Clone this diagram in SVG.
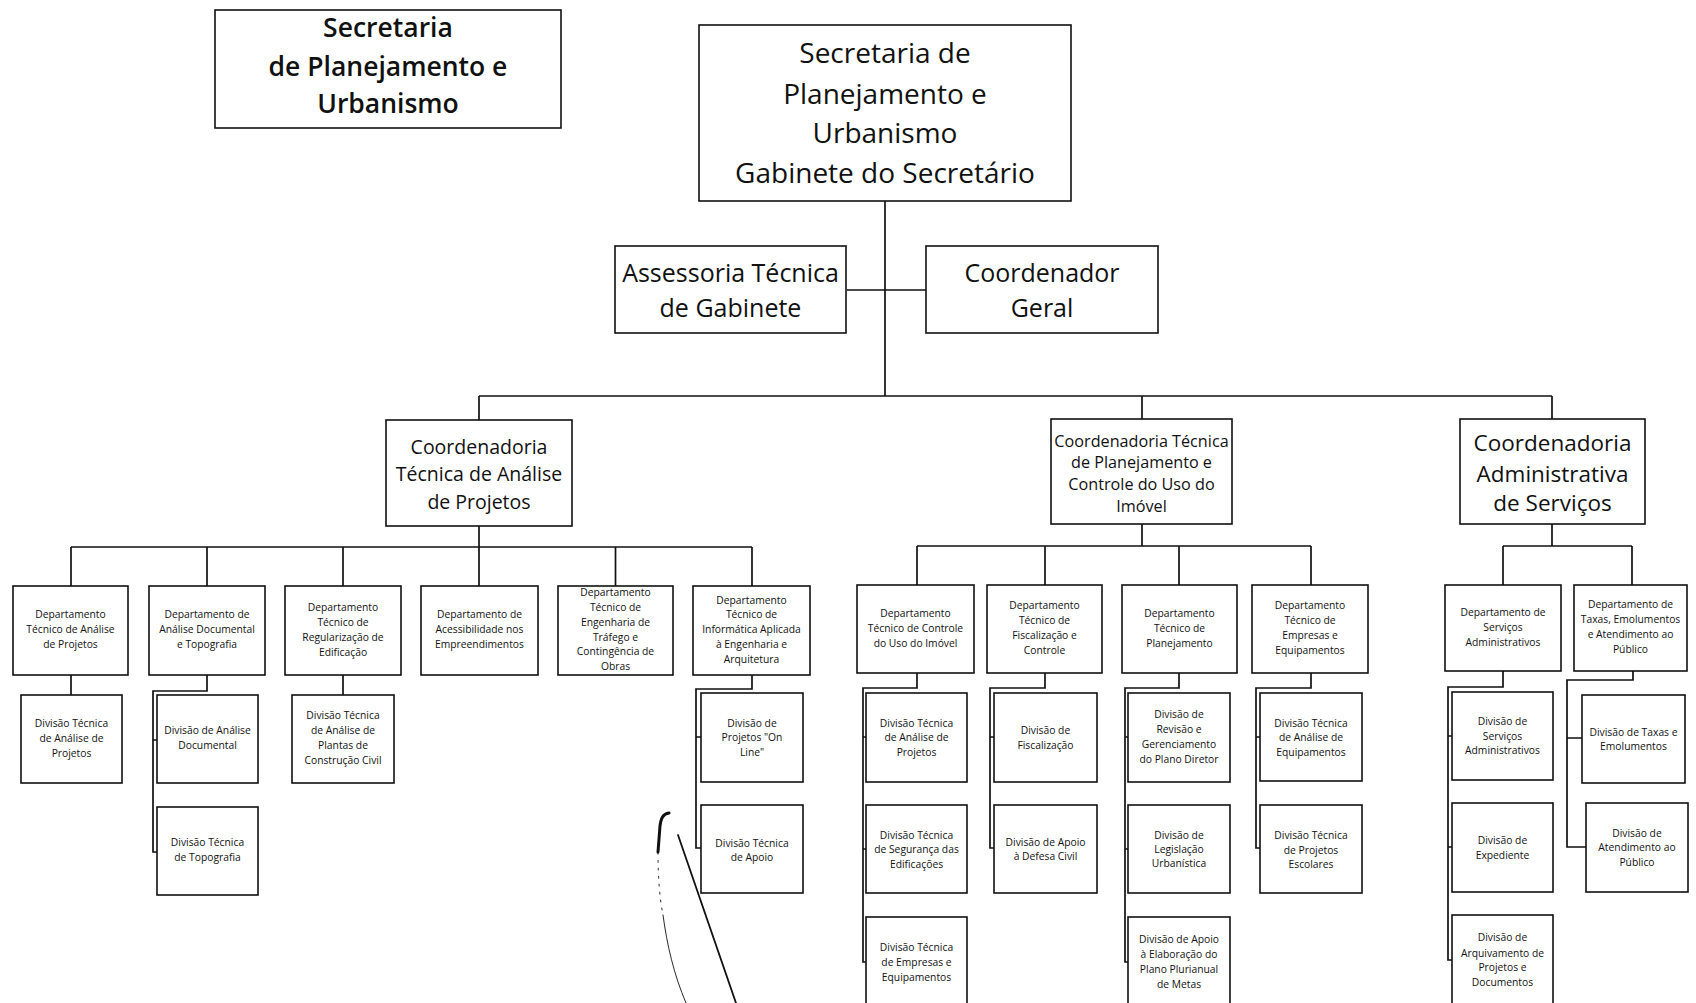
<svg xmlns="http://www.w3.org/2000/svg" width="1696" height="1003" viewBox="0 0 1696 1003">
<style>
.bx{fill:#fff;stroke:#111;stroke-width:1.6}
.t{font-family:"Open Sans","Noto Sans",sans-serif;fill:#111;text-anchor:middle}
.s{font-size:10.3px}
.ln{fill:none;stroke:#111;stroke-width:1.7}
.art{fill:none;stroke:#111;stroke-linecap:round}
</style>
<rect width="1696" height="1003" fill="#fff"/>

<g id="connectors" class="ln">
<path d="M885,201 V396 M847,290 H926"/>
<path d="M479,396 H1552 M479,396 V420 M1142,396 V419 M1552,396 V419"/>
<path d="M479,526 V547 M71,547 H752 M71,547 V586 M207,547 V586 M343,547 V586 M479,547 V586 M615.5,547 V586 M752,547 V586"/>
<path d="M1142,524 V546 M917,546 H1311 M917,546 V585 M1045,546 V585 M1179,546 V585 M1311,546 V585"/>
<path d="M1552,524 V546 M1503,546 H1632 M1503,546 V585 M1632,546 V585"/>
<path d="M71,675 V695 M343,675 V695"/>
<path d="M207,675 V691 H153 V852 H157 M153,740 H157"/>
<path d="M752,674 V689 H696 V848 H701 M696,737 H701"/>
<path d="M917,673 V688 H863 V962 H866 M863,737 H866 M863,849 H866"/>
<path d="M1045,673 V688 H990 V848 H994 M990,737 H994"/>
<path d="M1179,673 V688 H1125 V962 H1128 M1125,737 H1128 M1125,849 H1128"/>
<path d="M1311,673 V688 H1256 V848 H1260 M1256,737 H1260"/>
<path d="M1503,671 V687 H1448 V960 H1452 M1448,736 H1452 M1448,847 H1452"/>
<path d="M1633,671 V680 H1567 V847 H1586 M1567,738 H1582"/>
</g>

<g id="title">
<rect class="bx" x="215" y="10" width="346" height="118"/>
<text class="t" style="font-size:26.5px;font-weight:600"><tspan x="388" y="37">Secretaria</tspan><tspan x="388" y="76">de Planejamento e</tspan><tspan x="388" y="113">Urbanismo</tspan></text>
</g>

<g id="gabinete">
<rect class="bx" x="699" y="25" width="372" height="176"/>
<text class="t" style="font-size:28px"><tspan x="885" y="63">Secretaria de</tspan><tspan x="885" y="104">Planejamento e</tspan><tspan x="885" y="143">Urbanismo</tspan><tspan x="885" y="183">Gabinete do Secretário</tspan></text>
</g>

<g id="assessoria">
<rect class="bx" x="615" y="246" width="231" height="87"/>
<text class="t" style="font-size:25px"><tspan x="730.5" y="282">Assessoria Técnica</tspan><tspan x="730.5" y="317">de Gabinete</tspan></text>
</g>

<g id="coordenador">
<rect class="bx" x="926" y="246" width="232" height="87"/>
<text class="t" style="font-size:25px"><tspan x="1042" y="282">Coordenador</tspan><tspan x="1042" y="317">Geral</tspan></text>
</g>

<g id="coord-analise">
<rect class="bx" x="386" y="420" width="186" height="106"/>
<text class="t" style="font-size:19.5px"><tspan x="479" y="454">Coordenadoria</tspan><tspan x="479" y="481">Técnica de Análise</tspan><tspan x="479" y="509">de Projetos</tspan></text>
</g>

<g id="coord-planejamento">
<rect class="bx" x="1051" y="419" width="181" height="105"/>
<text class="t" style="font-size:16.2px"><tspan x="1141.5" y="447">Coordenadoria Técnica</tspan><tspan x="1141.5" y="468">de Planejamento e</tspan><tspan x="1141.5" y="490">Controle do Uso do</tspan><tspan x="1141.5" y="512">Imóvel</tspan></text>
</g>

<g id="coord-administrativa">
<rect class="bx" x="1460" y="419" width="185" height="105"/>
<text class="t" style="font-size:22.5px"><tspan x="1552.5" y="451">Coordenadoria</tspan><tspan x="1552.5" y="482">Administrativa</tspan><tspan x="1552.5" y="511">de Serviços</tspan></text>
</g>

<g id="dep-analise-projetos">
<rect class="bx" x="13" y="586" width="115" height="89"/>
<text class="t s"><tspan x="70.5" y="618.1">Departamento</tspan><tspan x="70.5" y="633.1">Técnico de Análise</tspan><tspan x="70.5" y="648.1">de Projetos</tspan></text>
</g>
<g id="dep-analise-documental">
<rect class="bx" x="149" y="586" width="116" height="89"/>
<text class="t s"><tspan x="207" y="618.1">Departamento de</tspan><tspan x="207" y="633.1">Análise Documental</tspan><tspan x="207" y="648.1">e Topografia</tspan></text>
</g>
<g id="dep-regularizacao">
<rect class="bx" x="285" y="586" width="116" height="89"/>
<text class="t s"><tspan x="343" y="610.6">Departamento</tspan><tspan x="343" y="625.6">Técnico de</tspan><tspan x="343" y="640.6">Regularização de</tspan><tspan x="343" y="655.6">Edificação</tspan></text>
</g>
<g id="dep-acessibilidade">
<rect class="bx" x="421" y="586" width="117" height="89"/>
<text class="t s"><tspan x="479.5" y="618.1">Departamento de</tspan><tspan x="479.5" y="633.1">Acessibilidade nos</tspan><tspan x="479.5" y="648.1">Empreendimentos</tspan></text>
</g>
<g id="dep-trafego">
<rect class="bx" x="558" y="586" width="115" height="89"/>
<text class="t s"><tspan x="615.5" y="596.4">Departamento</tspan><tspan x="615.5" y="611.1">Técnico de</tspan><tspan x="615.5" y="625.8">Engenharia de</tspan><tspan x="615.5" y="640.5">Tráfego e</tspan><tspan x="615.5" y="655.2">Contingência de</tspan><tspan x="615.5" y="669.9">Obras</tspan></text>
</g>
<g id="dep-informatica">
<rect class="bx" x="693" y="586" width="117" height="89"/>
<text class="t s"><tspan x="751.5" y="603.7">Departamento</tspan><tspan x="751.5" y="618.4">Técnico de</tspan><tspan x="751.5" y="633.1">Informática Aplicada</tspan><tspan x="751.5" y="647.8">à Engenharia e</tspan><tspan x="751.5" y="662.5">Arquitetura</tspan></text>
</g>

<g id="div-analise-projetos-1">
<rect class="bx" x="21" y="695" width="101" height="88"/>
<text class="t s"><tspan x="71.5" y="726.6">Divisão Técnica</tspan><tspan x="71.5" y="741.6">de Análise de</tspan><tspan x="71.5" y="756.6">Projetos</tspan></text>
</g>
<g id="div-analise-documental">
<rect class="bx" x="157" y="695" width="101" height="88"/>
<text class="t s"><tspan x="207.5" y="734.1">Divisão de Análise</tspan><tspan x="207.5" y="749.1">Documental</tspan></text>
</g>
<g id="div-topografia">
<rect class="bx" x="157" y="807" width="101" height="88"/>
<text class="t s"><tspan x="207.5" y="846.1">Divisão Técnica</tspan><tspan x="207.5" y="861.1">de Topografia</tspan></text>
</g>
<g id="div-plantas">
<rect class="bx" x="292" y="695" width="102" height="88"/>
<text class="t s"><tspan x="343" y="719.1">Divisão Técnica</tspan><tspan x="343" y="734.1">de Análise de</tspan><tspan x="343" y="749.1">Plantas de</tspan><tspan x="343" y="764.1">Construção Civil</tspan></text>
</g>
<g id="div-online">
<rect class="bx" x="701" y="693" width="102" height="89"/>
<text class="t s"><tspan x="752" y="726.6">Divisão de</tspan><tspan x="752" y="740.6">Projetos "On</tspan><tspan x="752" y="755.6">Line"</tspan></text>
</g>
<g id="div-apoio">
<rect class="bx" x="701" y="805" width="102" height="88"/>
<text class="t s"><tspan x="752" y="846.6">Divisão Técnica</tspan><tspan x="752" y="860.6">de Apoio</tspan></text>
</g>

<g id="dep-controle-uso">
<rect class="bx" x="857" y="585" width="117" height="88"/>
<text class="t s"><tspan x="915.5" y="616.6">Departamento</tspan><tspan x="915.5" y="631.6">Técnico de Controle</tspan><tspan x="915.5" y="646.6">do Uso do Imóvel</tspan></text>
</g>
<g id="dep-fiscalizacao">
<rect class="bx" x="987" y="585" width="115" height="88"/>
<text class="t s"><tspan x="1044.5" y="609.1">Departamento</tspan><tspan x="1044.5" y="624.1">Técnico de</tspan><tspan x="1044.5" y="639.1">Fiscalização e</tspan><tspan x="1044.5" y="654.1">Controle</tspan></text>
</g>
<g id="dep-planejamento">
<rect class="bx" x="1122" y="585" width="115" height="88"/>
<text class="t s"><tspan x="1179.5" y="616.6">Departamento</tspan><tspan x="1179.5" y="631.6">Técnico de</tspan><tspan x="1179.5" y="646.6">Planejamento</tspan></text>
</g>
<g id="dep-empresas">
<rect class="bx" x="1252" y="585" width="116" height="88"/>
<text class="t s"><tspan x="1310" y="609.1">Departamento</tspan><tspan x="1310" y="624.1">Técnico de</tspan><tspan x="1310" y="639.1">Empresas e</tspan><tspan x="1310" y="654.1">Equipamentos</tspan></text>
</g>

<g id="div-analise-projetos-2">
<rect class="bx" x="866" y="693" width="101" height="89"/>
<text class="t s"><tspan x="916.5" y="726.6">Divisão Técnica</tspan><tspan x="916.5" y="740.6">de Análise de</tspan><tspan x="916.5" y="755.6">Projetos</tspan></text>
</g>
<g id="div-seguranca">
<rect class="bx" x="866" y="805" width="101" height="88"/>
<text class="t s"><tspan x="916.5" y="838.6">Divisão Técnica</tspan><tspan x="916.5" y="852.6">de Segurança das</tspan><tspan x="916.5" y="867.6">Edificações</tspan></text>
</g>
<g id="div-empresas">
<rect class="bx" x="866" y="917" width="101" height="90"/>
<text class="t s"><tspan x="916.5" y="950.6">Divisão Técnica</tspan><tspan x="916.5" y="965.6">de Empresas e</tspan><tspan x="916.5" y="980.6">Equipamentos</tspan></text>
</g>
<g id="div-fiscalizacao">
<rect class="bx" x="994" y="693" width="103" height="89"/>
<text class="t s"><tspan x="1045.5" y="733.6">Divisão de</tspan><tspan x="1045.5" y="748.6">Fiscalização</tspan></text>
</g>
<g id="div-defesa-civil">
<rect class="bx" x="994" y="805" width="103" height="88"/>
<text class="t s"><tspan x="1045.5" y="845.6">Divisão de Apoio</tspan><tspan x="1045.5" y="859.6">à Defesa Civil</tspan></text>
</g>
<g id="div-plano-diretor">
<rect class="bx" x="1128" y="693" width="102" height="89"/>
<text class="t s"><tspan x="1179" y="718.1">Divisão de</tspan><tspan x="1179" y="733.1">Revisão e</tspan><tspan x="1179" y="748.1">Gerenciamento</tspan><tspan x="1179" y="763.1">do Plano Diretor</tspan></text>
</g>
<g id="div-legislacao">
<rect class="bx" x="1128" y="805" width="102" height="88"/>
<text class="t s"><tspan x="1179" y="838.6">Divisão de</tspan><tspan x="1179" y="852.6">Legislação</tspan><tspan x="1179" y="866.6">Urbanística</tspan></text>
</g>
<g id="div-plano-plurianual">
<rect class="bx" x="1128" y="917" width="102" height="90"/>
<text class="t s"><tspan x="1179" y="943.1">Divisão de Apoio</tspan><tspan x="1179" y="958.1">à Elaboração do</tspan><tspan x="1179" y="973.1">Plano Plurianual</tspan><tspan x="1179" y="988.1">de Metas</tspan></text>
</g>
<g id="div-analise-equipamentos">
<rect class="bx" x="1260" y="693" width="102" height="88"/>
<text class="t s"><tspan x="1311" y="726.6">Divisão Técnica</tspan><tspan x="1311" y="740.6">de Análise de</tspan><tspan x="1311" y="755.6">Equipamentos</tspan></text>
</g>
<g id="div-projetos-escolares">
<rect class="bx" x="1260" y="805" width="102" height="88"/>
<text class="t s"><tspan x="1311" y="838.6">Divisão Técnica</tspan><tspan x="1311" y="853.6">de Projetos</tspan><tspan x="1311" y="867.6">Escolares</tspan></text>
</g>

<g id="dep-servicos">
<rect class="bx" x="1445" y="585" width="116" height="86"/>
<text class="t s"><tspan x="1503" y="615.6">Departamento de</tspan><tspan x="1503" y="630.6">Serviços</tspan><tspan x="1503" y="645.6">Administrativos</tspan></text>
</g>
<g id="dep-taxas">
<rect class="bx" x="1574" y="585" width="113" height="86"/>
<text class="t s"><tspan x="1630.5" y="608.1">Departamento de</tspan><tspan x="1630.5" y="623.1">Taxas, Emolumentos</tspan><tspan x="1630.5" y="638.1">e Atendimento ao</tspan><tspan x="1630.5" y="653.1">Público</tspan></text>
</g>
<g id="div-servicos">
<rect class="bx" x="1452" y="692" width="101" height="88"/>
<text class="t s"><tspan x="1502.5" y="724.6">Divisão de</tspan><tspan x="1502.5" y="739.6">Serviços</tspan><tspan x="1502.5" y="753.6">Administrativos</tspan></text>
</g>
<g id="div-expediente">
<rect class="bx" x="1452" y="803" width="101" height="89"/>
<text class="t s"><tspan x="1502.5" y="843.6">Divisão de</tspan><tspan x="1502.5" y="858.6">Expediente</tspan></text>
</g>
<g id="div-arquivamento">
<rect class="bx" x="1452" y="915" width="101" height="92"/>
<text class="t s"><tspan x="1502.5" y="940.6">Divisão de</tspan><tspan x="1502.5" y="956.6">Arquivamento de</tspan><tspan x="1502.5" y="970.6">Projetos e</tspan><tspan x="1502.5" y="985.6">Documentos</tspan></text>
</g>
<g id="div-taxas">
<rect class="bx" x="1582" y="695" width="103" height="88"/>
<text class="t s"><tspan x="1633.5" y="736.1">Divisão de Taxas e</tspan><tspan x="1633.5" y="750.1">Emolumentos</tspan></text>
</g>
<g id="div-atendimento">
<rect class="bx" x="1586" y="803" width="102" height="89"/>
<text class="t s"><tspan x="1637" y="836.6">Divisão de</tspan><tspan x="1637" y="850.6">Atendimento ao</tspan><tspan x="1637" y="865.6">Público</tspan></text>
</g>

<g id="scan-marks">
<path class="art" stroke-width="3" d="M669,813 C663,814 661,818 660,826 L658,852"/>
<path class="art" stroke-width="0.9" stroke="#444" stroke-dasharray="2 6" d="M658,852 C658,880 660,900 663,915"/>
<path class="art" stroke-width="0.9" stroke="#333" d="M663,915 C667,945 674,975 686,1003"/>
<path class="art" stroke-width="1.8" d="M678,835 L736,1003"/>
</g>
</svg>
